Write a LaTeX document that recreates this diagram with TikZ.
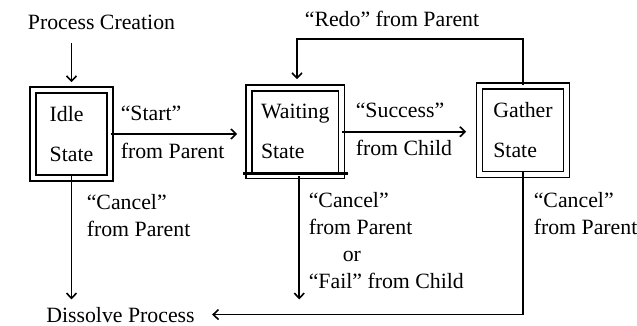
\documentclass[tikz,border=0pt]{standalone}
\usepackage{fontspec}
\setmainfont{Liberation Serif}
\usetikzlibrary{arrows.meta}

\begin{document}
\begin{tikzpicture}[x=0.5pt, y=-0.5pt, line width=0.8pt, >={Straight Barb[length=2.6pt, width=5pt]},
        font=\fontsize{10.9}{13.5}\selectfont,
        stbox/.style={draw, double, double distance=2.2pt, align=left, inner sep=0pt},
        lbl/.style={inner sep=0pt, align=left}]
            \useasboundingbox (0,0) rectangle (637,326);

            \node (idle) at (71.5,134) [stbox, minimum width=38.5pt, minimum height=44pt] {Idle\\[6.5pt]State};
            \node (wait) at (295.25,131.75) [stbox, minimum width=46.25pt, minimum height=43.75pt] {Waiting\\[6.5pt]State};
            \node (gather) at (523,130.25) [stbox, minimum width=43.5pt, minimum height=44.25pt] {Gather\\[6.5pt]State};

            %Heavy bottom edge of the waiting state.
            \draw[line width=1.5pt] ([xshift=-2.5pt, yshift=1.5pt]wait.south west) -- ([xshift=2.75pt, yshift=1.5pt]wait.south east);

            \node (create) at (101.5,30) [anchor=base] {Process Creation};
            \node (dissolve) at (120.5,322) [anchor=base] {Dissolve Process};
            \coordinate (redo) at (297,39);
            \coordinate (waitout) at ([xshift=2pt]wait.south);

            \draw[->, shorten <=2.5pt, shorten >=3.5pt] (idle.north |- create.south) to (idle.north);

            \draw[->, shorten >=5.5pt] (idle.east) to (idle.east -| wait.west);
            \node (startlbl) at (120,105) [lbl, anchor=north west] {“Start”\\[5.5pt]from Parent};

            \draw[->, shorten >=6.25pt] (wait.east) to (wait.east -| gather.west);
            \node (successlbl) at (355,102) [lbl, anchor=north west] {“Success”\\[5.5pt]from Child};

            \draw[->, shorten >=4pt] (gather.north) |- (redo) -- (redo |- wait.north);
            \node (redolbl) at (392,27) [anchor=base] {“Redo” from Parent};

            %Every state can be cancelled.
            \draw[->] ([yshift=1.5pt]idle.south) to (idle.south |- dissolve.north);
            \node (idlecancel) at (86,194) [lbl, anchor=north west] {“Cancel”\\from Parent};

            \draw[->] (waitout) to (waitout |- dissolve.north);
            \node (waitcancel) at (308,192) [lbl, anchor=north west] {“Cancel”\\from Parent\\\hspace*{17pt}or\\“Fail” from Child};

            \draw[->] ([yshift=1.5pt]gather.south) |- ([xshift=5pt]dissolve.east);
            \node (gathercancel) at (533,192) [lbl, anchor=north west] {“Cancel”\\from Parent};
        \end{tikzpicture}
\end{document}
